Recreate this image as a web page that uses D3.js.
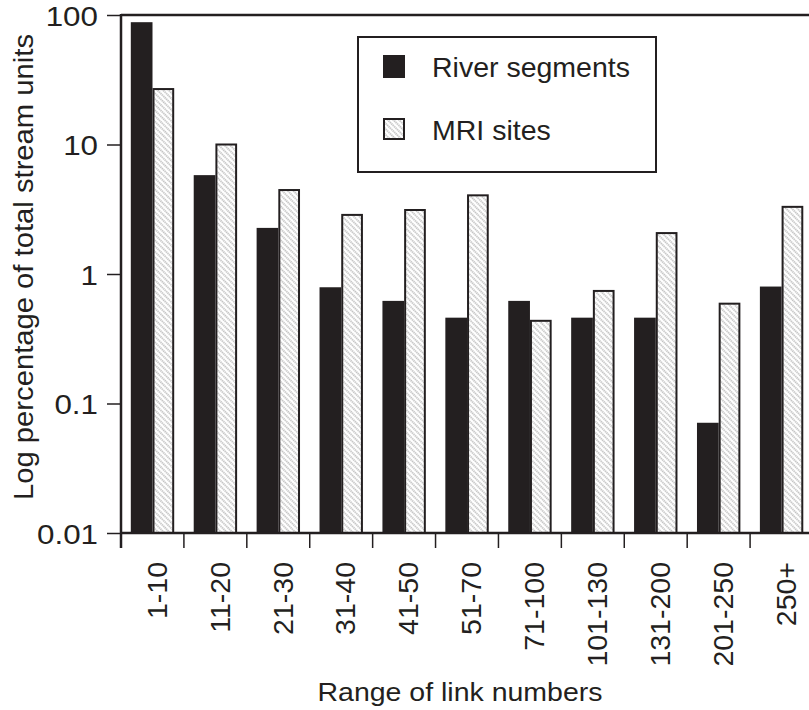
<!DOCTYPE html>
<html>
<head>
<meta charset="utf-8">
<script src="https://cdn.jsdelivr.net/npm/d3@7/dist/d3.min.js"></script>
<style>
  html, body { margin: 0; padding: 0; background: #fff; }
  svg { display: block; font-family: "Liberation Sans", Arial, Helvetica, sans-serif; }
</style>
</head>
<body>
<svg id="chart" width="809" height="710"></svg>
<script>
const categories = ["1-10","11-20","21-30","31-40","41-50","51-70","71-100","101-130","131-200","201-250","250+"];
const riverSegments = [88, 5.8, 2.27, 0.79, 0.62, 0.46, 0.62, 0.46, 0.46, 0.071, 0.80];
const mriSites      = [26.8, 10.0, 4.45, 2.86, 3.12, 4.05, 0.435, 0.74, 2.07, 0.59, 3.3];
const seriesNames = ["River segments", "MRI sites"];
const yTickValues = [100, 10, 1, 0.1, 0.01];
const yTickLabels = ["100", "10", "1", "0.1", "0.01"];

const ink = "#231f20";
const svg = d3.select("#chart");

const plotLeft = 121, plotRight = 813, plotTop = 15, plotBottom = 533;

// hatch pattern (fine dotted diagonal stipple)
const defs = svg.append("defs");
const pat = defs.append("pattern")
  .attr("id", "hatch").attr("patternUnits", "userSpaceOnUse")
  .attr("width", 4).attr("height", 4)
  .attr("patternTransform", "rotate(45)");
pat.append("rect").attr("width", 4).attr("height", 4).attr("fill", "#fff");
pat.append("line").attr("x1", 0).attr("y1", 2).attr("x2", 4).attr("y2", 2)
  .attr("stroke", "#8a8a8a").attr("stroke-width", 1.2).attr("stroke-dasharray", "1.3,0.7");

const x = d3.scaleBand().domain(categories).range([plotLeft, plotRight]).padding(0);
const x1 = d3.scaleBand().domain(seriesNames).range([9.8, 53.2]).padding(0);
const y = d3.scaleLog().domain([0.01, 100]).range([plotBottom, plotTop]);

const data = categories.map((c, i) => ({ cat: c, vals: [
  { s: seriesNames[0], v: riverSegments[i] },
  { s: seriesNames[1], v: mriSites[i] }
]}));

// bars
const groups = svg.append("g").selectAll("g").data(data).join("g")
  .attr("transform", d => `translate(${x(d.cat)},0)`);
groups.selectAll("rect").data(d => d.vals).join("rect")
  .attr("x", d => x1(d.s) + (d.s === seriesNames[1] ? 1 : 0))
  .attr("width", d => x1.bandwidth() - (d.s === seriesNames[1] ? 2 : 0))
  .attr("y", d => y(d.v))
  .attr("height", d => plotBottom - y(d.v))
  .attr("fill", d => d.s === seriesNames[0] ? ink : "url(#hatch)")
  .attr("stroke", d => d.s === seriesNames[0] ? "none" : ink)
  .attr("stroke-width", 2);

// top frame
svg.append("line").attr("x1", plotLeft).attr("x2", plotRight).attr("y1", plotTop).attr("y2", plotTop)
  .attr("stroke", ink).attr("stroke-width", 2.5);

// y axis
const yAxis = d3.axisLeft(y).tickValues(yTickValues)
  .tickFormat((d, i) => yTickLabels[i]).tickSize(14).tickPadding(0).tickSizeOuter(0);
const gy = svg.append("g").attr("transform", `translate(${plotLeft},0)`).call(yAxis);
gy.select(".domain").remove();
gy.selectAll(".tick line").attr("stroke", ink).attr("stroke-width", 1.5);
gy.selectAll(".tick text")
  .attr("x", -23 / 1.12).attr("dy", "0.36em")
  .attr("transform", "scale(1.12,1)")
  .attr("fill", ink).style("font-size", "28px")
  .attr("font-family", "'Liberation Sans', Arial, sans-serif");
svg.append("line").attr("x1", plotLeft).attr("x2", plotLeft).attr("y1", plotTop - 1).attr("y2", plotBottom + 15)
  .attr("stroke", ink).attr("stroke-width", 2.5);

// x axis
const xAxis = d3.axisBottom(x).tickSize(15).tickSizeOuter(0).tickPadding(0);
const gx = svg.append("g").attr("transform", `translate(0,${plotBottom})`).call(xAxis);
gx.select(".domain").remove();
gx.selectAll(".tick line").attr("transform", `translate(${-x.bandwidth() / 2},0)`)
  .attr("stroke", ink).attr("stroke-width", 1.5);
gx.selectAll(".tick text")
  .attr("transform", "translate(4,29) rotate(-90)")
  .attr("x", 0).attr("y", 0).attr("dy", "0.36em")
  .attr("text-anchor", "end")
  .attr("fill", ink).style("font-size", "28.5px")
  .attr("font-family", "'Liberation Sans', Arial, sans-serif");
svg.append("line").attr("x1", plotLeft).attr("x2", plotRight).attr("y1", plotBottom).attr("y2", plotBottom)
  .attr("stroke", ink).attr("stroke-width", 2.5);

// axis titles
svg.append("text")
  .attr("x", 460).attr("y", 701)
  .attr("text-anchor", "middle")
  .attr("font-size", 25).attr("fill", ink)
  .attr("textLength", 285).attr("lengthAdjust", "spacingAndGlyphs")
  .text("Range of link numbers");
svg.append("text")
  .attr("transform", "translate(33,267) rotate(-90)")
  .attr("text-anchor", "middle")
  .attr("font-size", 27).attr("fill", ink)
  .attr("textLength", 466).attr("lengthAdjust", "spacingAndGlyphs")
  .text("Log percentage of total stream units");

// legend
const lg = svg.append("g");
lg.append("rect").attr("x", 358).attr("y", 37).attr("width", 298).attr("height", 135)
  .attr("fill", "#fff").attr("stroke", ink).attr("stroke-width", 2);
const items = lg.selectAll("g.item").data(seriesNames).join("g")
  .attr("class", "item")
  .attr("transform", (d, i) => `translate(383,${55 + i * 63})`);
items.append("rect")
  .attr("x", (d, i) => i ? 1 : 0).attr("y", (d, i) => i ? 1 : 0)
  .attr("width", (d, i) => i ? 20 : 22).attr("height", (d, i) => i ? 20 : 23)
  .attr("fill", (d, i) => i ? "url(#hatch)" : ink)
  .attr("stroke", (d, i) => i ? ink : "none").attr("stroke-width", 2);
items.append("text")
  .attr("x", 49).attr("y", 22)
  .attr("font-size", 28.5).attr("fill", ink)
  .text(d => d);
</script>
</body>
</html>
